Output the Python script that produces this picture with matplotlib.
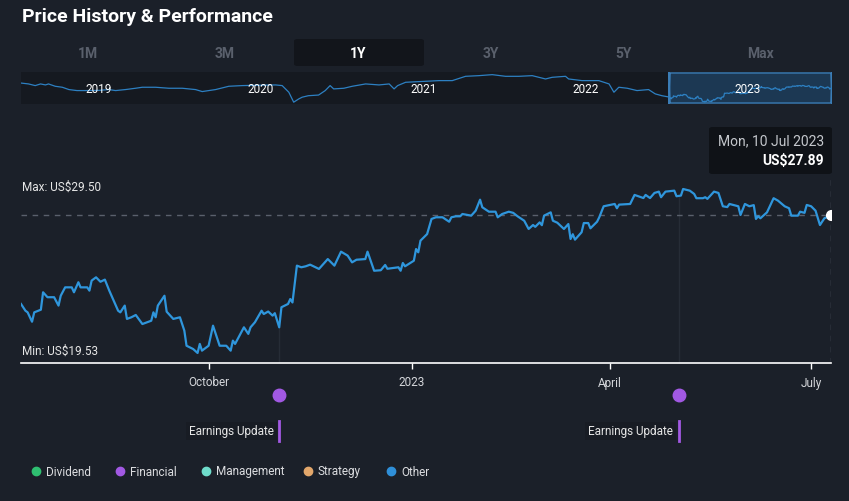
import matplotlib
matplotlib.use("Agg")
import numpy as np
import pandas as pd
import matplotlib.pyplot as plt
import matplotlib.dates as mdates
from matplotlib.patches import FancyBboxPatch
from matplotlib.transforms import blended_transform_factory

plt.rcParams['font.family'] = ['Roboto', 'DejaVu Sans']

# --- data -------------------------------------------------------------
price_dates = [
    '2022-07-08', '2022-07-10', '2022-07-11', '2022-07-13', '2022-07-14', '2022-07-17', '2022-07-18', '2022-07-20', '2022-07-23', '2022-07-25',
    '2022-07-26', '2022-07-28', '2022-07-31', '2022-08-01', '2022-08-03', '2022-08-04', '2022-08-07', '2022-08-08', '2022-08-09', '2022-08-11',
    '2022-08-13', '2022-08-15', '2022-08-17', '2022-08-21', '2022-08-22', '2022-08-24', '2022-08-25', '2022-08-27', '2022-08-29', '2022-09-01',
    '2022-09-05', '2022-09-06', '2022-09-07', '2022-09-08', '2022-09-11', '2022-09-12', '2022-09-15', '2022-09-18', '2022-09-20', '2022-09-21',
    '2022-09-24', '2022-09-26', '2022-09-27', '2022-09-28', '2022-10-01', '2022-10-03', '2022-10-06', '2022-10-09', '2022-10-11', '2022-10-12',
    '2022-10-13', '2022-10-17', '2022-10-19', '2022-10-20', '2022-10-22', '2022-10-25', '2022-10-26', '2022-10-28', '2022-10-30', '2022-10-31',
    '2022-11-02', '2022-11-03', '2022-11-06', '2022-11-07', '2022-11-08', '2022-11-10', '2022-11-12', '2022-11-14', '2022-11-16', '2022-11-20',
    '2022-11-24', '2022-11-27', '2022-11-30', '2022-12-03', '2022-12-05', '2022-12-07', '2022-12-11', '2022-12-12', '2022-12-15', '2022-12-18',
    '2022-12-20', '2022-12-21', '2022-12-26', '2022-12-27', '2022-12-28', '2022-12-29', '2023-01-02', '2023-01-03', '2023-01-04', '2023-01-05',
    '2023-01-08', '2023-01-10', '2023-01-12', '2023-01-15', '2023-01-18', '2023-01-19', '2023-01-21', '2023-01-23', '2023-01-24', '2023-01-28',
    '2023-01-30', '2023-02-01', '2023-02-02', '2023-02-05', '2023-02-08', '2023-02-09', '2023-02-11', '2023-02-14', '2023-02-16', '2023-02-18',
    '2023-02-21', '2023-02-23', '2023-02-25', '2023-02-26', '2023-02-28', '2023-03-01', '2023-03-02', '2023-03-05', '2023-03-06', '2023-03-08',
    '2023-03-11', '2023-03-13', '2023-03-14', '2023-03-15', '2023-03-16', '2023-03-19', '2023-03-20', '2023-03-22', '2023-03-23', '2023-03-26',
    '2023-03-27', '2023-03-29', '2023-04-01', '2023-04-03', '2023-04-04', '2023-04-05', '2023-04-10', '2023-04-12', '2023-04-15', '2023-04-16',
    '2023-04-17', '2023-04-19', '2023-04-21', '2023-04-23', '2023-04-24', '2023-04-26', '2023-04-30', '2023-05-01', '2023-05-03', '2023-05-04',
    '2023-05-07', '2023-05-09', '2023-05-10', '2023-05-13', '2023-05-14', '2023-05-15', '2023-05-18', '2023-05-20', '2023-05-22', '2023-05-24',
    '2023-05-25', '2023-05-29', '2023-05-30', '2023-06-01', '2023-06-03', '2023-06-05', '2023-06-06', '2023-06-07', '2023-06-08', '2023-06-11',
    '2023-06-14', '2023-06-16', '2023-06-19', '2023-06-21', '2023-06-22', '2023-06-25', '2023-06-26', '2023-06-28', '2023-06-29', '2023-07-01',
    '2023-07-03', '2023-07-05', '2023-07-07', '2023-07-10']
prices = [
    22.51, 22.10, 22.00, 21.43, 22.00, 22.16, 23.22, 22.92, 22.92, 22.41,
    23.01, 23.52, 23.52, 23.22, 23.83, 23.52, 23.52, 23.32, 23.93, 24.13,
    23.86, 23.99, 23.32, 22.10, 22.00, 22.41, 21.60, 21.70, 21.84, 21.29,
    21.49, 22.00, 21.70, 22.41, 23.01, 22.04, 21.60, 21.70, 20.89, 19.97,
    19.77, 19.53, 20.08, 19.67, 19.97, 21.19, 19.97, 19.97, 19.67, 20.28,
    20.08, 21.09, 20.69, 21.09, 21.40, 22.10, 21.90, 22.05, 21.80, 21.95,
    21.09, 22.31, 22.51, 22.81, 22.60, 24.84, 24.74, 24.80, 24.90, 24.64,
    25.24, 24.84, 25.69, 25.45, 25.04, 25.20, 25.24, 25.69, 24.53, 24.56,
    24.88, 24.65, 24.74, 24.53, 25.00, 24.80, 25.14, 25.85, 25.65, 26.36,
    26.76, 27.68, 27.78, 27.78, 27.51, 27.78, 27.84, 27.84, 27.98, 27.88,
    28.18, 28.85, 28.39, 28.12, 28.12, 27.78, 27.98, 28.12, 28.05, 27.84,
    27.57, 27.07, 27.31, 27.20, 27.47, 27.30, 27.88, 28.08, 27.57, 27.45,
    27.07, 27.37, 26.46, 26.75, 26.42, 26.87, 27.43, 27.43, 27.11, 27.51,
    27.78, 28.45, 28.53, 28.59, 28.33, 28.55, 28.59, 29.14, 29.00, 28.95,
    29.14, 28.95, 29.26, 29.34, 29.00, 29.34, 29.40, 29.06, 29.10, 29.50,
    29.40, 29.20, 28.94, 28.94, 29.00, 28.90, 29.34, 29.26, 28.45, 28.40,
    28.59, 28.45, 27.92, 28.59, 28.45, 28.52, 27.68, 27.85, 27.72, 28.08,
    28.94, 28.79, 28.45, 28.33, 27.88, 27.88, 28.12, 28.05, 28.53, 28.45,
    28.18, 27.31, 27.72, 27.89]

# longer history shown in the navigator strip (before the 1Y window)
hist_dates = [
    '2018-07-08', '2018-07-27', '2018-08-11', '2018-08-23', '2018-09-03', '2018-09-10', '2018-09-25', '2018-10-11', '2018-10-26', '2018-11-13',
    '2018-12-02', '2019-01-01', '2019-01-24', '2019-02-08', '2019-03-02', '2019-03-25', '2019-04-09', '2019-05-09', '2019-06-08', '2019-07-08',
    '2019-08-07', '2019-08-22', '2019-09-21', '2019-10-21', '2019-11-20', '2019-12-27', '2020-02-03', '2020-02-18', '2020-03-04', '2020-03-15',
    '2020-03-26', '2020-04-03', '2020-04-17', '2020-05-10', '2020-05-25', '2020-06-05', '2020-06-13', '2020-07-06', '2020-07-25', '2020-08-24',
    '2020-09-23', '2020-10-16', '2020-10-27', '2020-11-04', '2020-11-22', '2020-12-23', '2021-02-05', '2021-03-07', '2021-04-06', '2021-05-06',
    '2021-06-05', '2021-07-05', '2021-08-04', '2021-09-03', '2021-10-03', '2021-10-18', '2021-11-17', '2021-11-24', '2021-12-24', '2022-01-31',
    '2022-02-23', '2022-03-06', '2022-03-17', '2022-04-05', '2022-04-27', '2022-05-23', '2022-06-07', '2022-06-22']
hist_prices = [
    31.0, 30.4, 29.4, 30.4, 29.8, 30.4, 29.0, 28.4, 27.0, 26.4,
    26.4, 26.5, 27.0, 26.4, 27.0, 27.8, 28.4, 28.4, 27.8, 27.8,
    27.0, 25.8, 27.0, 29.0, 29.4, 29.6, 29.8, 29.4, 25.4, 19.4,
    21.3, 22.4, 23.3, 23.7, 26.4, 29.4, 27.4, 27.8, 29.0, 30.4,
    29.8, 30.4, 27.4, 29.4, 31.4, 31.8, 32.4, 32.4, 35.0, 35.4,
    36.0, 35.0, 35.0, 35.4, 33.4, 34.4, 35.0, 33.4, 32.4, 32.4,
    30.4, 25.4, 28.4, 27.8, 26.4, 27.0, 24.4, 23.3]

tick_dates = ['2022-10-01', '2023-01-01', '2023-04-01', '2023-07-01']
tick_labels = ['October', '2023', 'April', 'July']
nav_years = ['2019', '2020', '2021', '2022', '2023']
periods = ['1M', '3M', '1Y', '3Y', '5Y', 'Max']
selected_period = '1Y'
earnings_dates = ['2022-11-02', '2023-05-02']
legend_names = ['Dividend', 'Financial', 'Management', 'Strategy', 'Other']
legend_colors = ['#2fbf71', '#a259e3', '#6fdccb', '#e3a76b', '#2f8fd8']

# --- style ------------------------------------------------------------
W, H = 849, 502
BG = '#1b2029'
LINE = '#2f96dc'


def fx(x):
    return x / W


def fy(y):
    return 1 - y / H


def box(x0, y0, x1, y1):
    return [x0 / W, 1 - y1 / H, (x1 - x0) / W, (y1 - y0) / H]


dates = pd.to_datetime(price_dates)
all_dates = pd.to_datetime(hist_dates + price_dates)
all_prices = hist_prices + prices

fig = plt.figure(figsize=(W / 100, H / 100), dpi=100, facecolor=BG)

# title
fig.text(fx(22), fy(22), 'Price History & Performance', fontsize=14,
         weight='bold', color='white', va='baseline')

# period selector
period_x = [88, 225, 358, 491, 623, 761]
for name, px in zip(periods, period_x):
    if name == selected_period:
        fig.add_artist(FancyBboxPatch((fx(294), fy(67)), 130 / W, 27 / H,
                                      boxstyle='round,pad=0,rounding_size=0.004',
                                      transform=fig.transFigure, fc='#12151b', ec='none'))
    fig.text(fx(px), fy(54), name, fontsize=10, weight='bold', ha='center', va='center',
             color='white' if name == selected_period else '#5a606c')

# navigator strip
nav = fig.add_axes(box(21, 73, 832, 105), facecolor='#151920')
for s in nav.spines.values():
    s.set_visible(False)
nav.set_xticks([])
nav.set_yticks([])
nav.set_xlim(pd.Timestamp('2018-07-10'), pd.Timestamp('2023-07-10'))
nav.set_ylim(18.3, 37.6)
sel_start = mdates.date2num(dates[0])
sel_end = mdates.date2num(dates[-1])
nav.add_patch(FancyBboxPatch((sel_start, 0.03), sel_end - sel_start, 0.94,
                             boxstyle='round,pad=0,rounding_size=3',
                             transform=blended_transform_factory(nav.transData, nav.transAxes),
                             fc='#1c3853', ec='#3b7db6', lw=1, zorder=1))
nav.plot(all_dates, all_prices, color='#2d80c2', lw=0.9, zorder=2)
for yr in nav_years:
    nav.text(pd.Timestamp(yr + '-01-01'), 0.5, yr, fontsize=8.5, color='white',
             ha='center', va='center', transform=blended_transform_factory(nav.transData, nav.transAxes),
             zorder=3)

# main chart
ax = fig.add_axes(box(21, 128, 831, 364))
ax.set_facecolor('none')
ax.set_xlim(pd.Timestamp('2022-07-08'), pd.Timestamp('2023-07-10'))
ax.set_ylim(18.92, 33.27)
for k in ['top', 'left', 'right']:
    ax.spines[k].set_visible(False)
ax.spines['bottom'].set_color('white')
ax.spines['bottom'].set_linewidth(1.2)
ax.set_yticks([])
ax.set_xticks(pd.to_datetime(tick_dates))
ax.set_xticklabels(tick_labels)
ax.tick_params(axis='x', direction='out', length=4, width=1, color='white',
               labelcolor='#d4d6da', labelsize=8.5, pad=5)

last_date = dates[-1]
last_price = prices[-1]

# event lines from the price down to the axis
earn = pd.to_datetime(earnings_dates)
earn_price = np.interp(mdates.date2num(earn), mdates.date2num(dates), prices)
ax.vlines(earn, 18.92, earn_price, color='#262c36', lw=1, zorder=1)

ax.axhline(last_price, color='#5a606c', lw=1, ls=(0, (4, 4)), zorder=1)
ax.axvline(last_date, ymin=0, ymax=(364 - 175) / (364 - 128), color='#5a606c', lw=1,
           ls=(0, (4, 4)), zorder=1)
ax.plot(dates, prices, color=LINE, lw=1.6, zorder=3, solid_joinstyle='round')
ax.plot([last_date], [last_price], 'o', color='white', markersize=7, zorder=4)

fig.text(fx(22), fy(187), 'Max: US\\$%.2f' % max(prices), fontsize=8.5, color='#e6e6e6', va='center')
fig.text(fx(22), fy(351), 'Min: US\\$%.2f' % min(prices), fontsize=8.5, color='#e6e6e6', va='center')

# tooltip
fig.add_artist(FancyBboxPatch((fx(709), fy(175)), 123 / W, 47 / H,
                              boxstyle='round,pad=0,rounding_size=0.004',
                              transform=fig.transFigure, fc='#0f1217', ec='none'))
fig.text(fx(824), fy(141), last_date.strftime('%a, %d %b %Y'), fontsize=10,
         color='#c4c7cc', ha='right', va='center')
fig.text(fx(824), fy(161), 'US\\$%.2f' % last_price, fontsize=10, weight='bold',
         color='white', ha='right', va='center')

# events
blend = blended_transform_factory(ax.transData, fig.transFigure)
ax.plot(earn, [fy(396)] * len(earn), 'o', color='#a259e3', markersize=9,
        transform=blend, clip_on=False)
for d in earn:
    ax.plot([d, d], [fy(422), fy(442)], color='#a259e3', lw=2, transform=blend, clip_on=False)
    ax.annotate('Earnings Update', xy=(mdates.date2num(d), fy(432)), xycoords=blend,
                xytext=(-4, 0), textcoords='offset points', ha='right', va='center',
                fontsize=8.5, color='#e6e6e6', annotation_clip=False,
                bbox=dict(boxstyle='square,pad=0.25', fc='#181c24', ec='none'))

# legend
legend_x = [36, 120, 206, 308, 391]
for name, col, lx in zip(legend_names, legend_colors, legend_x):
    fig.add_artist(plt.Line2D([fx(lx)], [fy(472)], marker='o', color=col, markersize=6,
                              transform=fig.transFigure))
    fig.text(fx(lx + 10), fy(472), name, fontsize=8.5, color='#dcdde0', va='center')

fig.savefig('out.png', dpi=100, facecolor=BG)
